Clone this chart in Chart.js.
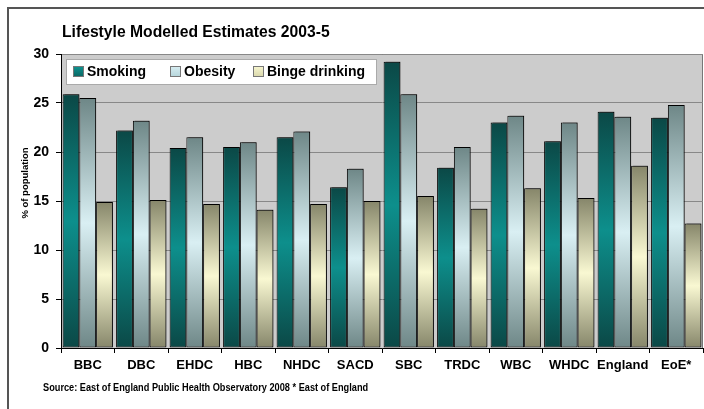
<!DOCTYPE html>
<html>
<head>
<meta charset="utf-8">
<script src="https://cdn.jsdelivr.net/npm/chart.js@4.4.0/dist/chart.umd.min.js"></script>
<style>
  html, body { margin: 0; padding: 0; background: #fff; }
  canvas { display: block; }
</style>
</head>
<body>
<canvas id="lifestyleChart" width="704" height="409"></canvas>
<script>
const areas = ["BBC", "DBC", "EHDC", "HBC", "NHDC", "SACD", "SBC", "TRDC", "WBC", "WHDC", "England", "EoE*"];
const smoking = [25.9, 22.2, 20.4, 20.5, 21.5, 16.4, 29.2, 18.4, 23.0, 21.1, 24.1, 23.5];
const obesity = [25.5, 23.2, 21.5, 21.0, 22.1, 18.3, 25.9, 20.5, 23.7, 23.0, 23.6, 24.8];
const bingeDrinking = [14.9, 15.1, 14.7, 14.1, 14.7, 15.0, 15.5, 14.2, 16.3, 15.3, 18.6, 12.7];
const yTicks = [0, 5, 10, 15, 20, 25, 30];

const chartTitle = "Lifestyle Modelled Estimates 2003-5";
const sourceNote = "Source: East of England Public Health Observatory 2008 * East of England";
const yAxisTitle = "% of population";

// dark at both ends, light in the middle of each bar
const palettes = {
    smoking: { dark: "#0b4846", light: "#0d8f8c", solid: "#0c7b78" },
    obesity: { dark: "#6e8787", light: "#d9eff3", solid: "#b4d4da" },
    binge: { dark: "#86866a", light: "#f9f8d2", solid: "#d8d6aa" }
};

function barGradient(pal) {
    return function (ctx) {
        const chart = ctx.chart;
        if (!chart.chartArea || ctx.type !== "data") return pal.solid;
        const y = chart.scales.y;
        const top = y.getPixelForValue(ctx.raw);
        const bottom = y.getPixelForValue(0);
        if (!(bottom > top)) return pal.solid;
        const g = chart.ctx.createLinearGradient(0, top, 0, bottom);
        g.addColorStop(0, pal.dark);
        g.addColorStop(0.5, pal.light);
        g.addColorStop(1, pal.dark);
        return g;
    };
}

const FONT = "'Liberation Sans', Arial, sans-serif";

const decorations = {
    id: "decorations",
    beforeDraw(chart) {
        const { ctx, chartArea } = chart;
        ctx.save();
        ctx.fillStyle = "#fff";
        ctx.fillRect(0, 0, chart.width, chart.height);
        // outer frame (right and bottom sit off the canvas)
        ctx.strokeStyle = "#555";
        ctx.lineWidth = 2;
        ctx.strokeRect(8, 8, chart.width + 20, chart.height + 20);
        // plot area
        ctx.fillStyle = "#cccccc";
        ctx.fillRect(chartArea.left, chartArea.top, chartArea.right - chartArea.left, chartArea.bottom - chartArea.top);
        ctx.strokeStyle = "#777";
        ctx.lineWidth = 1;
        ctx.beginPath();
        ctx.moveTo(chartArea.left, chartArea.top + 0.5);
        ctx.lineTo(chartArea.right - 0.5, chartArea.top + 0.5);
        ctx.lineTo(chartArea.right - 0.5, chartArea.bottom);
        ctx.stroke();

        ctx.fillStyle = "#000";
        ctx.textBaseline = "middle";
        ctx.textAlign = "left";
        ctx.font = "bold 15.7px " + FONT;
        ctx.fillText(chartTitle, 62, 33);

        ctx.save();
        ctx.translate(43, 388);
        ctx.scale(0.92, 1);
        ctx.font = "bold 10px " + FONT;
        ctx.fillText(sourceNote, 0, 0);
        ctx.restore();

        ctx.translate(25, 183);
        ctx.rotate(-Math.PI / 2);
        ctx.textAlign = "center";
        ctx.font = "bold 9.5px " + FONT;
        ctx.fillText(yAxisTitle, 0, 0);
        ctx.restore();
    },
    beforeDatasetsDraw(chart) {
        const ctx = chart.ctx;
        ctx.save();
        ctx.shadowColor = "rgba(0,0,0,0.4)";
        ctx.shadowOffsetX = 2;
        ctx.shadowOffsetY = -1;
        ctx.shadowBlur = 0;
    },
    afterDatasetsDraw(chart) {
        const ctx = chart.ctx;
        ctx.restore();

        // legend box inside the plot area
        const items = [
            { label: "Smoking", pal: palettes.smoking },
            { label: "Obesity", pal: palettes.obesity },
            { label: "Binge drinking", pal: palettes.binge }
        ];
        ctx.save();
        ctx.fillStyle = "#fff";
        ctx.fillRect(66, 59, 310, 25);
        ctx.strokeStyle = "#aaa";
        ctx.lineWidth = 1;
        ctx.strokeRect(66.5, 59.5, 310, 25);
        ctx.font = "bold 14px " + FONT;
        ctx.textBaseline = "middle";
        const markerX = [73, 170, 253];
        const my = 66;
        items.forEach((it, i) => {
            const x = markerX[i];
            const g = ctx.createLinearGradient(0, my, 0, my + 11);
            if (it.pal === palettes.smoking) {
                g.addColorStop(0, "#0f9592");
                g.addColorStop(1, "#0b6663");
            } else {
                g.addColorStop(0, it.pal.light);
                g.addColorStop(1, it.pal.solid);
            }
            ctx.fillStyle = g;
            ctx.fillRect(x, my, 11, 11);
            ctx.strokeStyle = "#777";
            ctx.strokeRect(x + 0.5, my + 0.5, 10, 10);
            ctx.fillStyle = "#000";
            ctx.fillText(it.label, x + 14, my + 6);
        });
        ctx.restore();
    }
};

new Chart(document.getElementById("lifestyleChart"), {
    type: "bar",
    data: {
        labels: areas,
        datasets: [
            { label: "Smoking", data: smoking, backgroundColor: barGradient(palettes.smoking) },
            { label: "Obesity", data: obesity, backgroundColor: barGradient(palettes.obesity) },
            { label: "Binge drinking", data: bingeDrinking, backgroundColor: barGradient(palettes.binge) }
        ]
    },
    options: {
        responsive: false,
        animation: false,
        devicePixelRatio: 1,
        layout: { padding: { left: 9, top: 54, right: 1, bottom: 0 } },
        datasets: {
            bar: {
                categoryPercentage: 0.94,
                barPercentage: 1.0,
                borderColor: "#000",
                borderWidth: 1,
                borderSkipped: false
            }
        },
        plugins: {
            legend: { display: false },
            title: { display: false },
            tooltip: { enabled: false }
        },
        scales: {
            x: {
                offset: true,
                grid: { offset: true, drawOnChartArea: false, tickLength: 5, tickColor: "#000" },
                border: { color: "#000", width: 1 },
                ticks: {
                    color: "#000", padding: 5, autoSkip: false, maxRotation: 0, minRotation: 0,
                    font: { family: FONT, size: 13, weight: "bold" }
                },
                afterFit(scale) { scale.height = 61; }
            },
            y: {
                min: 0,
                max: 30,
                afterBuildTicks(scale) { scale.ticks = yTicks.map(v => ({ value: v })); },
                grid: { color: "#888", tickLength: 5, tickColor: "#000" },
                border: { color: "#000", width: 1 },
                ticks: { color: "#000", padding: 7, font: { family: FONT, size: 14, weight: "bold" } },
                afterFit(scale) { scale.width = 52; }
            }
        }
    },
    plugins: [decorations]
});
</script>
</body>
</html>
